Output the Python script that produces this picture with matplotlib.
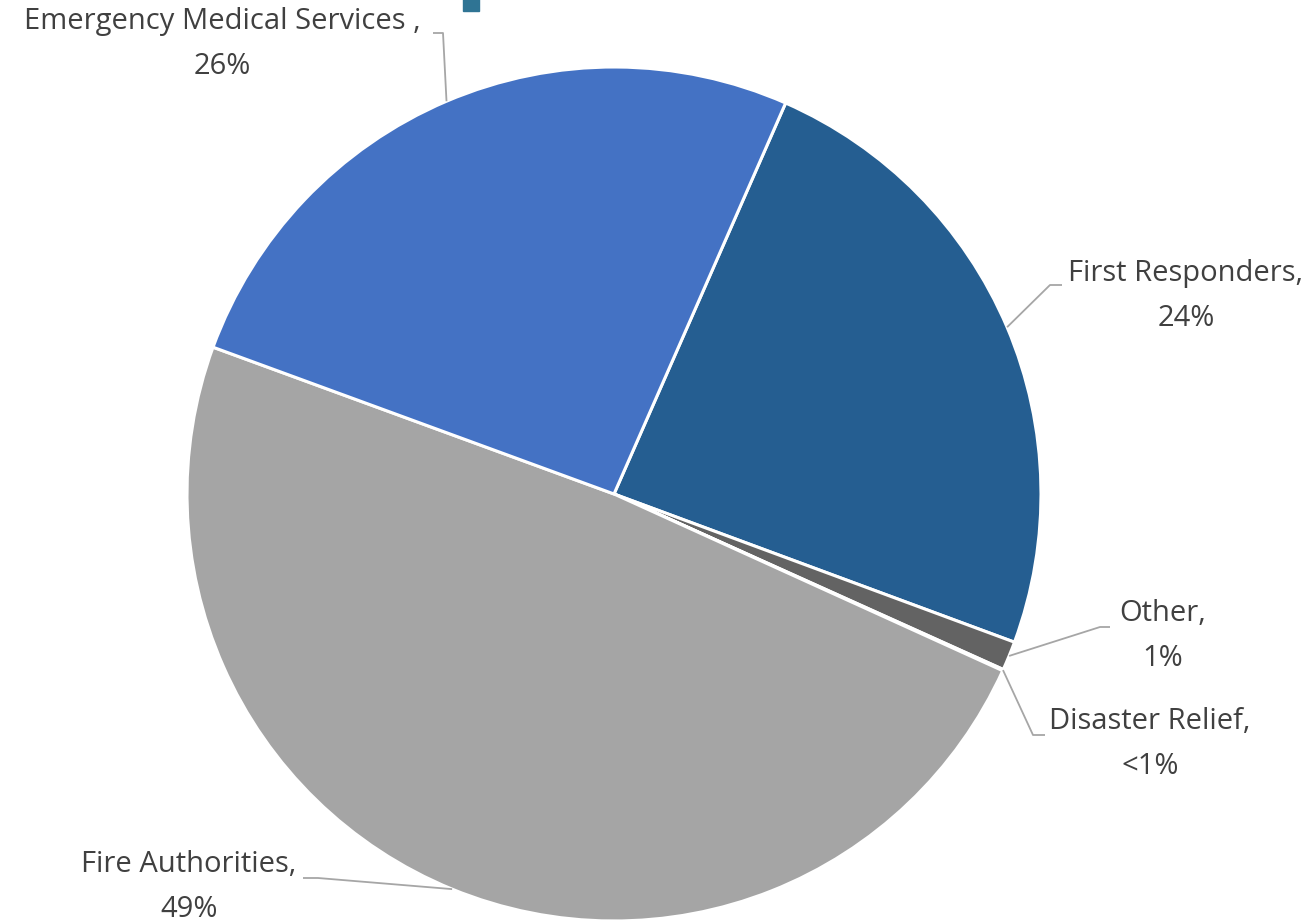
import matplotlib.pyplot as plt
import numpy as np
from matplotlib.patches import Rectangle

categories = ['First Responders', 'Other', 'Disaster Relief', 'Fire Authorities', 'Emergency Medical Services ']
shares = [24.06, 1.1, 0.05, 48.8, 26.0]
pct_labels = ['24%', '1%', '<1%', '49%', '26%']
colors = ['#255E91', '#636363', '#7F7F7F', '#A5A5A5', '#4472C4']

W, H = 1311, 923
cx, cy, R = 614, H - 494, 427

# label text centre and knee point (pixel coords, y from top)
label_pos = [(1186, 296), (1163, 636), (1150, 744), (189, 887), (222, 44)]
knee_pos = [(1050, 285), (1100, 627), (1033, 735), (318, 878), (443, 33)]
text_edge = [(1062, 285), (1110, 627), (1045, 735), (303, 878), (433, 33)]

plt.rcParams['font.family'] = ['Open Sans', 'DejaVu Sans']

fig = plt.figure(figsize=(W / 100, H / 100), dpi=100)
ax = fig.add_axes([0, 0, 1, 1])

wedges, _ = ax.pie(shares, colors=colors, startangle=90 - 23.7, counterclock=False,
                   center=(cx, cy), radius=R, frame=True,
                   wedgeprops=dict(edgecolor='white', linewidth=2.2))
ax.set_xlim(0, W)
ax.set_ylim(0, H)
ax.set_aspect('equal')
ax.axis('off')

for w, name, pl, lp, kp, te in zip(wedges, categories, pct_labels, label_pos, knee_pos, text_edge):
    mid = np.deg2rad((w.theta1 + w.theta2) / 2)
    px = cx + R * np.cos(mid)
    py = cy + R * np.sin(mid)
    ax.plot([px, kp[0], te[0]], [py, H - kp[1], H - te[1]], color='#A6A6A6', lw=1.3,
            solid_capstyle='butt', zorder=3)
    ax.text(lp[0], H - lp[1], name + ',\n' + pl, ha='center', va='center',
            multialignment='center', fontsize=21, color='#404040', linespacing=1.7)

# cut-off legend marker at the top edge
ax.add_patch(Rectangle((463, H - 11), 16, 14, color='#2F7494', clip_on=False))

fig.savefig('out.png', dpi=100)
